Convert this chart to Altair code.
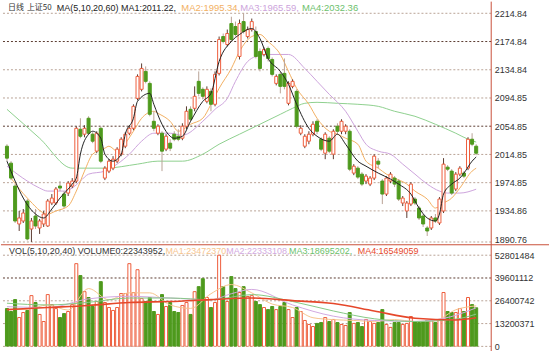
import altair as alt
import pandas as pd

# ---------------- data ----------------
opens = [
    2026.5, 2002.5, 1970.0, 1916.3, 1920.5, 1948.8, 1909.2, 1927.6, 1910.6, 1916.3,
    1913.5, 1946.0, 1946.0, 1970.0, 1958.7, 1960.1, 1970.0, 1977.1, 2050.5, 2043.5,
    2066.1, 2043.5, 2019.5, 2051.9, 1981.3, 1991.2, 1995.4, 2005.3, 2015.2, 2026.5,
    2044.9, 2051.9, 2094.3, 2107.1, 2132.5, 2115.5, 2061.8, 2044.9, 2044.9, 2022.3,
    2030.8, 2043.5, 2040.6, 2037.8, 2054.8, 2078.8, 2080.2, 2118.4, 2107.1, 2090.1,
    2104.2, 2085.9, 2129.7, 2181.9, 2170.6, 2200.3, 2196.1, 2153.7, 2203.1, 2181.9,
    2191.8, 2189.0, 2160.8, 2156.5, 2165.0, 2149.4, 2115.5, 2128.3, 2129.7, 2087.3,
    2111.3, 2104.2, 2044.9, 2026.5, 2033.6, 2043.5, 2061.8, 2036.4, 2016.6, 2037.8,
    2015.2, 2054.8, 2047.7, 2047.7, 2047.7, 1988.4, 1995.4, 1986.9, 1977.1, 1972.8,
    1981.3, 2005.3, 1977.1, 1958.7, 1977.1, 1981.3, 1977.1, 1946.0, 1934.7, 1944.5,
    1951.6, 1938.9, 1927.6, 1910.6, 1910.6, 1924.8, 1917.7, 1934.7, 1996.8, 1991.2,
    1965.8, 1986.9, 1988.4, 1995.4, 2036.4, 2026.5]
highs = [
    2029.3, 2005.3, 1972.8, 1934.7, 1937.5, 1951.6, 1924.8, 1937.5, 1923.4, 1934.7,
    1951.6, 1958.7, 1968.6, 1977.1, 1962.9, 1977.1, 1981.3, 2054.8, 2066.1, 2056.2,
    2068.9, 2046.3, 2047.7, 2054.8, 1998.2, 2008.1, 2012.4, 2025.1, 2039.2, 2046.3,
    2056.2, 2085.9, 2128.3, 2143.8, 2139.6, 2118.4, 2076.0, 2057.6, 2047.7, 2043.5,
    2036.4, 2047.7, 2050.5, 2059.0, 2083.0, 2083.0, 2111.3, 2132.5, 2109.9, 2111.3,
    2108.5, 2132.5, 2181.9, 2186.2, 2191.8, 2210.0, 2203.1, 2206.0, 2214.8, 2196.1,
    2207.4, 2196.1, 2165.0, 2166.4, 2167.8, 2152.3, 2128.3, 2132.5, 2150.9, 2118.4,
    2121.2, 2107.1, 2056.2, 2043.5, 2047.7, 2061.8, 2064.7, 2039.2, 2046.3, 2040.6,
    2050.5, 2059.0, 2064.7, 2057.6, 2050.5, 2001.1, 1998.2, 1989.8, 1986.9, 1984.1,
    2015.2, 2009.6, 1979.9, 1984.1, 1989.8, 1984.1, 1979.9, 1955.9, 1948.8, 1975.6,
    1954.4, 1941.7, 1930.4, 1913.5, 1927.6, 1930.4, 1954.4, 2009.6, 1999.7, 1994.0,
    1989.8, 1998.2, 1991.2, 2039.2, 2044.9, 2029.3]
lows = [
    2005.3, 1978.5, 1917.7, 1906.4, 1917.7, 1893.0, 1890.8, 1909.2, 1902.2, 1912.1,
    1912.1, 1943.1, 1943.1, 1962.9, 1938.9, 1955.9, 1967.2, 1974.2, 2037.8, 2039.2,
    2042.1, 2030.8, 2016.6, 2002.5, 1978.5, 1988.4, 1992.6, 2002.5, 2012.4, 2023.7,
    2042.1, 2049.1, 2091.5, 2104.2, 2115.5, 2068.9, 2047.7, 2042.1, 1991.2, 2019.5,
    2019.5, 2033.6, 2033.6, 2035.0, 2050.5, 2061.8, 2076.0, 2097.2, 2092.9, 2087.3,
    2076.0, 2083.0, 2126.8, 2172.1, 2167.8, 2174.9, 2181.9, 2149.4, 2186.2, 2179.1,
    2189.0, 2150.9, 2132.5, 2153.7, 2146.6, 2125.4, 2112.7, 2101.4, 2107.1, 2084.4,
    2108.5, 2051.9, 2042.1, 2023.7, 2029.3, 2040.6, 2043.5, 2019.5, 2008.1, 2016.6,
    2008.1, 2043.5, 2043.5, 2043.5, 1991.2, 1985.5, 1979.9, 1970.0, 1972.8, 1970.0,
    1978.5, 1995.4, 1944.5, 1955.9, 1974.2, 1968.6, 1948.8, 1941.7, 1924.8, 1941.7,
    1943.1, 1921.9, 1912.1, 1899.3, 1907.8, 1917.7, 1914.9, 1931.8, 1991.2, 1957.3,
    1962.9, 1984.1, 1981.3, 1992.6, 2026.5, 2013.8]
closes = [
    2009.6, 1981.3, 1920.5, 1924.8, 1931.8, 1895.1, 1920.5, 1913.5, 1920.5, 1930.4,
    1948.8, 1953.0, 1965.8, 1967.2, 1941.7, 1974.2, 1977.1, 2051.9, 2040.6, 2051.9,
    2044.9, 2033.6, 2044.9, 2005.3, 1995.4, 2005.3, 2008.1, 2022.3, 2036.4, 2043.5,
    2051.9, 2083.0, 2125.4, 2136.7, 2118.4, 2071.7, 2051.9, 2054.8, 2019.5, 2040.6,
    2023.7, 2036.4, 2036.4, 2054.8, 2076.0, 2064.7, 2097.2, 2101.4, 2097.2, 2107.1,
    2085.9, 2128.3, 2177.7, 2174.9, 2186.2, 2177.7, 2184.8, 2200.3, 2189.0, 2191.8,
    2203.1, 2153.7, 2136.7, 2163.6, 2150.9, 2128.3, 2125.4, 2111.3, 2111.3, 2115.5,
    2118.4, 2054.8, 2051.9, 2040.6, 2043.5, 2057.6, 2047.7, 2022.3, 2043.5, 2019.5,
    2047.7, 2047.7, 2061.8, 2054.8, 1994.0, 1998.2, 1982.7, 1972.8, 1984.1, 1981.3,
    2012.4, 2001.1, 1958.7, 1981.3, 1986.9, 1972.8, 1951.6, 1953.0, 1946.0, 1972.8,
    1946.0, 1924.8, 1916.3, 1906.4, 1924.8, 1920.5, 1951.6, 2001.1, 1994.0, 1960.1,
    1986.9, 1995.4, 1984.1, 2036.4, 2029.3, 2016.6]
volumes = [
    21900000, 20200000, 27100000, 16700000, 19600000, 20800000, 29400000, 25400000, 18500000, 14400000,
    30000000, 24200000, 21900000, 16700000, 19000000, 20200000, 24200000, 47900000, 41000000, 31700000,
    28300000, 23100000, 26000000, 37500000, 25400000, 22500000, 20800000, 22500000, 30600000, 30600000,
    47900000, 31200000, 44400000, 27700000, 26000000, 28300000, 20200000, 18500000, 30000000, 23100000,
    25400000, 20200000, 19600000, 23700000, 25400000, 18500000, 31700000, 34600000, 39200000, 28300000,
    22500000, 25400000, 52801484, 34600000, 26000000, 40400000, 33500000, 31200000, 34600000, 28900000,
    29400000, 26000000, 24200000, 22500000, 21300000, 23100000, 21300000, 23100000, 25400000, 21300000,
    16700000, 22500000, 20200000, 15000000, 12700000, 11500000, 13300000, 13800000, 16700000, 14400000,
    15600000, 13800000, 12700000, 12100000, 19600000, 13300000, 13800000, 11500000, 15600000, 14400000,
    13300000, 13800000, 21300000, 12700000, 11000000, 13800000, 13800000, 12700000, 13300000, 17300000,
    14400000, 13800000, 14400000, 15000000, 15000000, 13800000, 15600000, 31200000, 20200000, 19600000,
    19600000, 21900000, 20200000, 28300000, 24200000, 22343952]

# moving-average lines, read at sample candles
ma5_i = [0, 2, 4, 7, 9, 11, 13, 16, 17, 18, 20, 21, 23, 24, 26, 28, 29, 31, 32, 35, 36, 38, 40, 41, 43,
         45, 48, 50, 52, 55, 57, 60, 62, 64, 67, 69, 71, 74, 76, 79, 81, 83, 86, 88, 91, 94, 96, 99,
         101, 103, 105, 106, 107, 109, 111, 112, 114, 115]
ma5_v = [2005.3, 1977.1, 1953.0, 1930.4, 1924.8, 1937.5, 1953.0, 1972.8, 1981.3, 2015.2, 2043.5, 2047.7,
         2037.8, 2015.2, 2005.3, 2015.2, 2043.5, 2066.1, 2090.1, 2101.4, 2085.9, 2057.6, 2040.6, 2037.8,
         2040.6, 2061.8, 2090.1, 2101.4, 2146.6, 2174.9, 2184.8, 2193.3, 2179.1, 2150.9, 2132.5, 2114.1,
         2085.9, 2051.9, 2040.6, 2033.6, 2043.5, 2029.3, 2005.3, 1998.2, 1988.4, 1979.9, 1972.8, 1958.7,
         1938.9, 1924.8, 1920.5, 1930.4, 1958.7, 1972.8, 1981.3, 1988.4, 2005.3, 2011.22]
ma10_i = [1, 5, 10, 12, 15, 17, 19, 21, 24, 25, 27, 28, 31, 33, 36, 37, 40, 42, 45, 48, 50, 52, 55, 57,
          60, 62, 64, 67, 69, 71, 74, 76, 79, 81, 83, 86, 88, 91, 93, 95, 98, 100, 103, 105, 107, 109,
          111, 114, 115]
ma10_v = [1981.3, 1953.0, 1930.4, 1934.7, 1941.7, 1962.9, 1991.2, 2015.2, 2023.7, 2026.5, 2019.5, 2023.7,
          2047.7, 2066.1, 2076.0, 2073.1, 2061.8, 2047.7, 2057.6, 2066.1, 2085.9, 2108.5, 2136.7, 2160.8,
          2181.9, 2184.8, 2174.9, 2156.5, 2132.5, 2108.5, 2085.9, 2066.1, 2047.7, 2043.5, 2037.8, 2029.3,
          2005.3, 1995.4, 1986.9, 1981.3, 1972.8, 1962.9, 1951.6, 1938.9, 1946.0, 1953.0, 1967.2, 1991.2,
          1995.34]
ma20_i = [0, 5, 8, 10, 14, 16, 18, 20, 24, 27, 30, 33, 36, 40, 43, 48, 51, 54, 56, 59, 61, 64, 67, 69,
          73, 76, 79, 83, 86, 88, 91, 94, 97, 100, 103, 106, 108, 111, 115]
ma20_v = [1998.2, 1977.1, 1967.2, 1962.9, 1962.9, 1967.2, 1977.1, 1986.9, 1991.2, 2001.1, 2015.2, 2033.6,
          2044.9, 2044.9, 2042.1, 2061.8, 2078.8, 2094.3, 2118.4, 2146.6, 2153.7, 2156.5, 2156.5, 2156.5,
          2136.7, 2118.4, 2100.0, 2076.0, 2047.7, 2029.3, 2019.5, 2015.2, 2001.1, 1986.9, 1972.8, 1962.9,
          1960.1, 1960.1, 1965.59]
ma60_i = [0, 8, 16, 24, 32, 37, 43, 48, 52, 57, 62, 67, 70, 73, 76, 81, 86, 91, 95, 100, 105, 110, 113, 115]
ma60_v = [2078.8, 2037.8, 1995.4, 1995.4, 2001.1, 2005.3, 2005.3, 2015.2, 2029.3, 2043.5, 2057.6, 2071.7,
          2080.2, 2087.3, 2088.7, 2087.3, 2085.9, 2083.0, 2076.0, 2068.9, 2057.6, 2044.9, 2036.4, 2032.36]

vma5_i = [0, 5, 10, 15, 20, 25, 30, 35, 40, 45, 50, 55, 60, 65, 70, 75, 80, 85, 90, 95, 100, 105, 110, 115]
vma5_v = [21300000, 21500000, 24000000, 21000000, 33500000, 27000000, 31000000, 31000000, 24000000,
          22000000, 30500000, 35800000, 31000000, 24500000, 22500000, 16600000, 15500000, 15000000,
          14500000, 15500000, 14400000, 15000000, 21200000, 23472370]
vma10_i = [0, 10, 20, 30, 40, 50, 55, 60, 70, 80, 90, 100, 110, 115]
vma10_v = [23000000, 22500000, 27500000, 29000000, 28000000, 27000000, 30500000, 33000000, 24000000,
           17500000, 15000000, 14500000, 18000000, 22333108]
vma20_i = [0, 10, 20, 30, 40, 50, 60, 70, 80, 90, 100, 110, 115]
vma20_v = [25000000, 24000000, 25500000, 28000000, 28000000, 27000000, 30000000, 26000000, 20500000,
           16000000, 14400000, 15800000, 18695202]
vma40_i = [0, 10, 20, 30, 40, 50, 60, 70, 80, 90, 100, 110, 115]
vma40_v = [21300000, 22500000, 23700000, 25400000, 26000000, 27100000, 28000000, 26500000, 24800000,
           20500000, 16300000, 15300000, 16549059]

price_ticks = [2214.84, 2174.84, 2134.84, 2094.85, 2054.85, 2014.85, 1974.85, 1934.86, 1890.76]
price_dark = [2174.84, 2054.85]
vol_ticks = [52801484, 39601112, 26400742, 13200371, 0]
vol_dark = [39601112]

# ---------------- layout / style ----------------
W, H1, H2 = 492, 244, 102
PX = 4.18
FONT = "Liberation Sans"
CJK = "Noto Sans CJK SC"
RED, GREEN = "#ee5d3c", "#4e9a1d"
FRAME = "#c9503a"
C_MA5, C_MA10, C_MA20, C_MA60 = "#222222", "#f2b062", "#cda4dc", "#8fd08f"
C_V1, C_V2, C_V3, C_V4 = "#f6c48e", "#d2a9e0", "#86c986", "#e6472a"

xs = alt.Scale(domain=[-1 / PX, -1 / PX + W / PX], nice=False, zero=False)
ps = alt.Scale(domain=[2231.36 - 1.4119 * H1, 2231.36], nice=False, zero=False)
vs = alt.Scale(domain=[0, H2 * 577000], nice=False, zero=False)
X = alt.X("i:Q", scale=xs, axis=None)

df = pd.DataFrame({"i": list(range(len(closes))), "open": opens, "high": highs,
                   "low": lows, "close": closes, "vol": volumes})
df["dir"] = ["up" if c >= o else "down" for o, c in zip(opens, closes)]

dir_stroke = alt.Scale(domain=["up", "down"], range=[RED, GREEN])
dir_fill = alt.Scale(domain=["up", "down"], range=["#ffffff", GREEN])


def make_axis(vals, fmt, offset):
    return alt.Axis(orient="right", values=vals, format=fmt, ticks=False, domain=False, grid=False,
                    labelPadding=3, labelFontSize=9, labelFont=FONT, labelColor="#333333",
                    labelOverlap=False, title="", labelOffset=offset)


PAX = make_axis(price_ticks, ".2f",
                {"condition": {"test": "datum.value < 1900", "value": -2.5}, "value": 0})
VAX = make_axis(vol_ticks, "d", 0)


def grid(vals, dark, scale, ax):
    g = pd.DataFrame({"v": vals, "k": ["d" if v in dark else "l" for v in vals]})
    return alt.Chart(g).mark_rule(strokeDash=[2, 2], strokeWidth=1).encode(
        y=alt.Y("v:Q", scale=scale, axis=ax),
        color=alt.Color("k:N", scale=alt.Scale(domain=["d", "l"], range=["#5b3b30", "#b9a396"]), legend=None))


def line(idx, vals, color, scale, ax, width=1.0):
    d = pd.DataFrame({"i": idx, "v": vals})
    return alt.Chart(d).mark_line(color=color, strokeWidth=width, clip=True, interpolate="monotone").encode(
        x=X, y=alt.Y("v:Q", scale=scale, axis=ax))


def label(txt, x, y, color, size, font=FONT):
    return alt.Chart(pd.DataFrame({"t": [txt]})).mark_text(
        align="left", baseline="middle", fontSize=size, font=font, color=color).encode(
        x=alt.value(x), y=alt.value(y), text="t:N")


one = pd.DataFrame({"a": [0]})

# ---------------- price panel ----------------
wicks = alt.Chart(df).mark_rule(strokeWidth=1, clip=True).encode(
    x=X, y=alt.Y("low:Q", scale=ps, axis=PAX), y2="high:Q",
    color=alt.Color("dir:N", scale=dir_stroke, legend=None))
bodies = alt.Chart(df).mark_bar(size=3, strokeWidth=1, clip=True).encode(
    x=X, y=alt.Y("open:Q", scale=ps, axis=PAX), y2="close:Q",
    fill=alt.Fill("dir:N", scale=dir_fill, legend=None),
    stroke=alt.Stroke("dir:N", scale=dir_stroke, legend=None))

price_layers = [
    grid(price_ticks, price_dark, ps, PAX),
    line(ma60_i, ma60_v, C_MA60, ps, PAX), line(ma20_i, ma20_v, C_MA20, ps, PAX),
    line(ma10_i, ma10_v, C_MA10, ps, PAX), wicks, bodies, line(ma5_i, ma5_v, C_MA5, ps, PAX),
    label("日线", 7, 6, "#333333", 8, CJK),
    label("上证50", 26, 6, "#333333", 8, CJK),
    label("MA(5,10,20,60) MA1:2011.22,", 56, 6, "#222222", 9),
    label("MA2:1995.34,", 181, 6, C_MA10, 9.5),
    label("MA3:1965.59,", 240, 6, C_MA20, 9.5),
    label("MA4:2032.36", 302, 6, "#6cbf6c", 9.5),
    alt.Chart(one).mark_rule(color=FRAME, strokeWidth=1).encode(
        x=alt.value(0), x2=alt.value(550), y=alt.value(H1)),
    alt.Chart(one).mark_rule(color=FRAME, strokeWidth=1).encode(
        x=alt.value(W), y=alt.value(0), y2=alt.value(H1)),
]
price = alt.layer(*price_layers).properties(width=W, height=H1)

# ---------------- volume panel ----------------
vbars = alt.Chart(df).mark_bar(size=3, strokeWidth=1, clip=True).encode(
    x=X, y=alt.Y("vol:Q", scale=vs, axis=VAX), y2=alt.datum(0),
    fill=alt.Fill("dir:N", scale=dir_fill, legend=None),
    stroke=alt.Stroke("dir:N", scale=dir_stroke, legend=None))

vol_layers = [
    grid(vol_ticks, vol_dark, vs, VAX),
    vbars,
    line(vma5_i, vma5_v, C_V1, vs, VAX), line(vma10_i, vma10_v, C_V2, vs, VAX),
    line(vma20_i, vma20_v, C_V3, vs, VAX), line(vma40_i, vma40_v, C_V4, vs, VAX, 1.6),
    label("VOL(5,10,20,40) VOLUME0:22343952,", 8, 6, "#333333", 9),
    label("MA1:23472370,", 165, 6, C_V1, 9),
    label("MA2:22333108,", 226, 6, C_V2, 9),
    label("MA3:18695202,", 289, 6, "#6cbf6c", 9),
    label("MA4:16549059", 358, 6, C_V4, 9),
    alt.Chart(one).mark_rule(color=FRAME, strokeWidth=1).encode(
        x=alt.value(W), y=alt.value(0), y2=alt.value(H2 + 6)),
]
vol = alt.layer(*vol_layers).properties(width=W, height=H2)

chart = alt.vconcat(price, vol, spacing=0, bounds="flush").properties(
    padding=0, background="white").configure_view(strokeWidth=0)

chart.save("out.html", embed_options={"renderer": "svg", "actions": False})
